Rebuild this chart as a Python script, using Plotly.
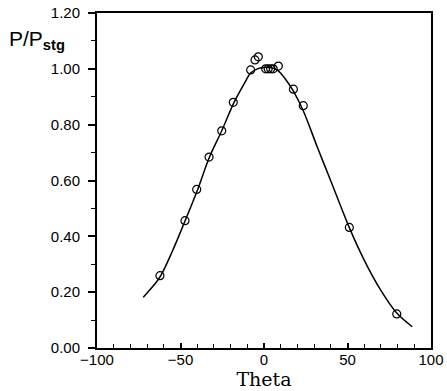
import plotly.graph_objects as go

# Measured points
theta_pts = [-62.3, -47.3, -40.3, -32.9, -25.3, -18.4, -8.0, -5.4, -3.4,
             1.0, 2.5, 4.0, 5.5, 8.6, 17.6, 23.5, 51.1, 79.5]
p_pts = [0.259, 0.456, 0.568, 0.684, 0.778, 0.880, 0.996, 1.032, 1.043,
         1.000, 1.000, 1.000, 1.000, 1.010, 0.927, 0.868, 0.432, 0.122]

# Fitted curve
theta_fit = [-72.3, -65.0, -61.9, -55.0, -47.3, -39.7, -32.7, -25.3, -18.0,
             -12.0, -8.0, -4.0, 0.0, 4.0, 8.0, 13.0, 17.6, 23.5, 31.9, 39.9,
             50.9, 60.0, 69.8, 79.5, 88.8]
p_fit = [0.182, 0.232, 0.258, 0.345, 0.455, 0.568, 0.683, 0.778, 0.879,
         0.945, 0.985, 1.000, 1.005, 1.005, 0.995, 0.962, 0.920, 0.850, 0.720,
         0.600, 0.434, 0.315, 0.208, 0.125, 0.076]

fig = go.Figure()
fig.add_trace(go.Scatter(x=theta_fit, y=p_fit, mode="lines",
                         line=dict(color="black", width=1.5, shape="spline", smoothing=1.0),
                         hoverinfo="skip", showlegend=False))
fig.add_trace(go.Scatter(x=theta_pts, y=p_pts, mode="markers",
                         marker=dict(symbol="circle-open", size=8, color="black",
                                     line=dict(width=1.2, color="black")),
                         showlegend=False))

fig.update_layout(
    width=447, height=391,
    margin=dict(l=97, r=16, t=13, b=43, autoexpand=False),
    paper_bgcolor="white", plot_bgcolor="white",
    font=dict(family="Liberation Sans, Arial, sans-serif", size=15, color="black"),
    xaxis=dict(range=[-100, 100], dtick=50, tick0=0, showgrid=False, zeroline=False,
               automargin=False,
               showline=True, linecolor="black", linewidth=2, mirror=True,
               ticks="inside", ticklen=5, tickwidth=1.5, tickcolor="black",
               ticklabelstandoff=-3,
               minor=dict(dtick=10, ticks="inside", ticklen=4, tickwidth=1.2, tickcolor="black"),
               title=dict(text="Theta", standoff=6,
                          font=dict(family="DejaVu Serif, serif", size=19))),
    yaxis=dict(range=[0, 1.2], dtick=0.2, tickformat=".2f", showgrid=False, zeroline=False,
               automargin=False,
               showline=True, linecolor="black", linewidth=2, mirror=True,
               ticks="outside", ticklen=7, tickwidth=1.5, tickcolor="black",
               minor=dict(dtick=0.1, ticks="outside", ticklen=4, tickwidth=1.2, tickcolor="black"),
               ticklabelstandoff=5),
    annotations=[dict(text="P/P<sub><b>stg</b></sub>", xref="paper", yref="paper",
                      x=-0.27, y=0.918, xanchor="left", yanchor="middle",
                      showarrow=False,
                      font=dict(family="Liberation Sans, Arial, sans-serif", size=21))],
)

fig.write_html("out.html", config={"displayModeBar": False},
               post_script="document.body.style.margin='0';document.body.style.overflow='hidden';")
